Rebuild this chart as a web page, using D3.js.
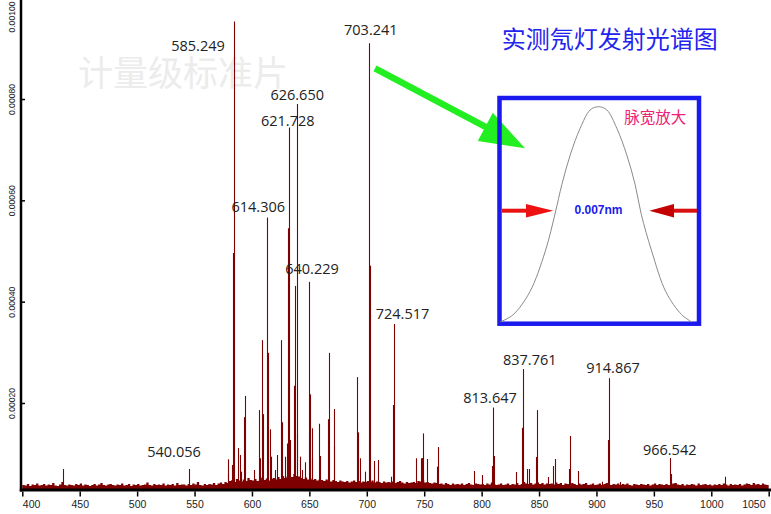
<!DOCTYPE html>
<html><head><meta charset="utf-8">
<script src="https://cdn.jsdelivr.net/npm/d3@7/dist/d3.min.js"></script>
<style>html,body{margin:0;padding:0;background:#fff;overflow:hidden}</style>
</head><body>
<svg id="chart" width="771" height="514"></svg>
<script>
// ---------------- DATA ----------------
const xTicks = [400,450,500,550,600,650,700,750,800,850,900,950,1000,1050];
const yTicks = [0.0002,0.0004,0.0006,0.0008,0.0010];

// baseline noise level, one value every 2 nm from 400 nm, in units of 1e-6
const noiseStart = 400, noiseStep = 2;
const noiseLevel = [
 38,37,40,36,39,38,41,37,38,40,
 37,39,38,42,37,36,39,44,38,37,
 39,38,37,40,38,41,37,39,38,36,
 38,40,37,39,42,38,37,39,40,38,
 37,39,38,41,37,38,40,36,39,38,
 40,37,38,39,43,38,37,40,38,39,
 38,41,37,39,38,40,37,42,38,39,
 39,37,40,38,41,39,44,38,37,40,
 38,40,39,42,38,41,43,40,44,42,
 46,48,44,50,47,45,49,46,52,48,
 47,50,46,49,53,48,51,47,50,52,
 49,54,50,56,52,55,58,54,60,56,
 55,52,50,53,49,51,48,50,47,49,
 48,46,49,47,45,48,46,44,47,45,
 44,46,43,45,47,44,46,43,45,44,
 46,44,47,43,45,44,42,45,43,44,
 43,45,42,44,46,43,41,44,42,43,
 44,42,46,45,48,43,44,42,41,43,
 42,40,41,39,42,40,38,41,39,40,
 39,41,38,40,42,39,38,41,40,39,
 40,38,41,39,43,40,38,39,41,38,
 39,41,38,40,39,42,38,40,44,41,
 40,42,39,41,43,40,42,39,41,40,
 41,39,43,40,42,38,41,40,39,42,
 40,38,41,39,40,42,38,39,41,38,
 39,41,38,40,42,39,38,40,39,41,
 38,40,39,41,38,37,40,39,38,40,
 39,38,40,37,39,41,38,40,39,38,
 40,38,39,41,42,39,38,40,37,39,
 38,40,39,37,41,38,39,40,38,39,
 37,39,38,40,38,41,39,37,40,38,
 39,38,40,37,39,41,40,38,42,39,
 40,38,41,39,38,40
];

// emission lines (measured position, nm) and intensity
const peakWavelength = [
 435.7,545.4,578.9,579.4,582.4,583.7,584.6,587.6,589.6,590.7,
 593.3,594.2,596.8,601.8,606.4,607.3,609.0,609.9,613.4,614.2,
 615.7,616.3,620.1,621.5,625.5,626.4,629.0,630.8,631.6,632.0,
 633.1,636.9,637.7,639.0,639.5,641.8,643.3,645.9,649.9,650.5,
 652.0,652.5,658.6,659.3,666.5,667.4,671.2,671.7,691.7,692.6,
 694.3,698.4,702.2,702.8,706.5,710.0,720.8,723.1,724.0,742.6,
 747.0,747.8,749.2,752.7,761.4,762.0,793.6,800.6,809.3,810.2,
 810.8,829.7,835.4,836.3,839.8,841.5,847.6,848.5,858.1,862.4,
 864.2,876.4,877.2,884.2,904.6,910.3,911.2,920.8,964.3,964.9,
 1012.2
];
const peakIntensity = [
 0.0000697,0.0000697,0.0000618,0.0000888,0.0000776,0.000496,0.000953,0.000111,0.0000973,0.0000644,
 0.000172,0.000214,0.0000499,0.0000677,0.000186,0.0000908,0.000324,0.000178,0.000566,0.000299,
 0.000148,0.0000940,0.0000677,0.0000973,0.000324,0.000162,0.0000940,0.000120,0.000545,0.000744,
 0.000127,0.000234,0.000431,0.000140,0.000790,0.0000940,0.0000677,0.0000829,0.000439,0.000217,
 0.0000908,0.000150,0.000159,0.0000953,0.000168,0.000299,0.000188,0.000114,0.000251,0.000142,
 0.0000908,0.0000644,0.000910,0.000471,0.0000855,0.0000874,0.0000545,0.000196,0.000356,0.0000908,
 0.0000908,0.0000914,0.000140,0.0000894,0.0000742,0.000113,0.0000657,0.0000578,0.0000756,0.000191,
 0.0000953,0.0000638,0.000151,0.000267,0.0000697,0.0000697,0.0000934,0.000186,0.0000539,0.0000756,
 0.0000894,0.0000697,0.000135,0.0000657,0.0000446,0.000127,0.000249,0.0000440,0.0000914,0.0000598,
 0.0000545
];

// peak annotations: text, anchor wavelength (text centre), anchor intensity (text baseline)
const labelText = ["585.249","703.241","626.650","621.728","614.306","640.229","724.517","540.056","813.647","837.761","914.867","966.542"];
const labelWavelength = [553.0,703.5,639.4,631.2,605.5,652.3,731.1,532.1,807.3,841.9,914.4,963.8];
const labelIntensity = [0.000895,0.000926,0.000798,0.000747,0.000576,0.000454,0.000365,0.0000940,0.000199,0.000274,0.000259,0.0000973];

const titleText = "实测氖灯发射光谱图";
const watermarkText = "计量级标准片";
const insetTitle = "脉宽放大";
const insetWidthLabel = "0.007nm";

// zoomed line profile (offset from line centre in nm, relative intensity)
const profileOffset = [-0.0076,-0.0066,-0.0053,-0.0041,-0.00334,-0.00282,-0.00216,-0.00141,-0.00064,0,0.00064,0.00141,0.00216,0.00282,0.0033,0.0041,0.0052,0.0064,0.0072];
const profileRel    = [0,0.033,0.14,0.33,0.506,0.64,0.78,0.90,0.985,1,0.985,0.90,0.78,0.64,0.5,0.33,0.14,0.035,0];

// ---------------- CHART ----------------
const svg = d3.select("#chart");
const W = 771, H = 514;
const axisY = 490;        // x-axis line centre
const axisX = 21;         // y-axis line centre
const maroon = "#7f0000";

const x = d3.scaleLinear().domain([400,1050]).range([22.3,768.7]);
const y = d3.scaleLinear().domain([0,0.001]).range([504.3,-2.3]);

// watermark
svg.append("text").attr("x",183).attr("y",86).attr("text-anchor","middle")
  .attr("font-family","'Noto Sans CJK SC', sans-serif").attr("font-size",35)
  .attr("fill","#ececec").text(watermarkText);

// clip for spectrum
svg.append("defs").append("clipPath").attr("id","plotClip")
  .append("rect").attr("x",axisX).attr("y",0).attr("width",W-axisX).attr("height",axisY);

const plot = svg.append("g").attr("clip-path","url(#plotClip)");

const noiseData = noiseLevel.map((v,i)=>({w:noiseStart+i*noiseStep, v:v*1e-6}));
plot.append("path").datum(noiseData)
  .attr("fill",maroon)
  .attr("d", d3.area().x(d=>x(d.w)).y0(axisY).y1(d=>y(d.v)).curve(d3.curveStepAfter));

const peaks = peakWavelength.map((w,i)=>({w, v:peakIntensity[i]}));
plot.selectAll("line.peak").data(peaks).join("line").attr("class","peak")
  .attr("x1",d=>Math.round(x(d.w))+0.5).attr("x2",d=>Math.round(x(d.w))+0.5)
  .attr("y1",axisY).attr("y2",d=>y(d.v))
  .attr("stroke",maroon).attr("stroke-width",1.1);

// peak labels
const labels = labelText.map((t,i)=>({t, w:labelWavelength[i], v:labelIntensity[i]}));
svg.selectAll("text.plabel").data(labels).join("text").attr("class","plabel")
  .attr("x",d=>x(d.w)).attr("y",d=>y(d.v)).attr("text-anchor","middle")
  .attr("font-family","'Open Sans', sans-serif").attr("font-size",14.5)
  .attr("fill","#222").text(d=>d.t);

// axes
const xAxis = svg.append("g").attr("transform",`translate(0,${axisY+1.5})`)
  .call(d3.axisBottom(x).tickValues(xTicks).tickSize(5).tickFormat(d3.format("d")));
xAxis.select(".domain").remove();
xAxis.selectAll(".tick line").attr("stroke","#000").attr("stroke-width",1.5);
xAxis.selectAll(".tick text").attr("y",9).attr("font-size",10.5)
  .attr("font-family","'Liberation Sans', Arial, sans-serif").attr("fill","#222");
xAxis.selectAll(".tick").each(function(d){
  const t = d3.select(this).select("text");
  const len = t.node().getComputedTextLength();
  const cx = x(d);
  let shift = 0;
  if (cx - len/2 < 22.3) shift = 22.3 - (cx - len/2);
  if (cx + len/2 > 765) shift = 765 - (cx + len/2);
  t.attr("x", shift);
});

const yAxis = svg.append("g").attr("transform",`translate(${axisX},0)`)
  .call(d3.axisLeft(y).tickValues(yTicks).tickSizeInner(-4).tickSizeOuter(0).tickFormat(d3.format(".5f")));
yAxis.select(".domain").remove();
yAxis.selectAll(".tick line").attr("stroke","#000").attr("stroke-width",1.5);
yAxis.selectAll(".tick text")
  .attr("x",null).attr("dy",null).attr("text-anchor","middle")
  .attr("font-size",8.6).attr("font-family","'Liberation Sans', Arial, sans-serif").attr("fill","#222")
  .each(function(d){
    const len = this.getComputedTextLength();
    const cy = y(d);
    let shift = 0;
    if (cy - len/2 < 1) shift = 1 - (cy - len/2);
    d3.select(this).attr("transform",`translate(-6,${shift}) rotate(-90)`);
  });

// axis lines
svg.append("line").attr("x1",axisX-1.25).attr("x2",W).attr("y1",axisY).attr("y2",axisY)
  .attr("stroke","#000").attr("stroke-width",3);
svg.append("line").attr("x1",axisX).attr("x2",axisX).attr("y1",0).attr("y2",axisY+1.5)
  .attr("stroke","#000").attr("stroke-width",2.5);

// title
svg.append("text").attr("x",609.7).attr("y",47.5).attr("text-anchor","middle")
  .attr("font-family","'Noto Sans CJK SC', sans-serif").attr("font-size",24)
  .attr("fill","#2323ee").text(titleText);

// green pointer arrow
const g = svg.append("g");
g.append("line").attr("x1",375).attr("y1",68.3).attr("x2",486).attr("y2",127.2)
  .attr("stroke","#22ee22").attr("stroke-width",6.5);
g.append("polygon").attr("points","477.8,140.9 525,148.3 492.8,112.7").attr("fill","#22ee22");

// inset
const ix = d3.scaleLinear().domain([-0.0076,0.0076]).range([500,697]);
const iy = d3.scaleLinear().domain([0,1]).range([322,106.7]);
const inset = svg.append("g");
inset.append("rect").attr("x",499.5).attr("y",98).attr("width",199.5).attr("height",225.7)
  .attr("fill","none").attr("stroke","#1a1aee").attr("stroke-width",4.5);
const prof = profileOffset.map((o,i)=>({o, r:profileRel[i]}));
inset.append("path").datum(prof).attr("fill","none").attr("stroke","#8a8a8a").attr("stroke-width",1)
  .attr("d", d3.line().x(d=>ix(d.o)).y(d=>iy(d.r)).curve(d3.curveCatmullRom));

// FWHM arrows
inset.append("line").attr("x1",502).attr("x2",528).attr("y1",210.7).attr("y2",210.7)
  .attr("stroke","#e81414").attr("stroke-width",4);
inset.append("polygon").attr("points","526,204 553.3,210.7 526,217.5").attr("fill","#ee1111");
inset.append("line").attr("x1",672).attr("x2",697).attr("y1",210.7).attr("y2",210.7)
  .attr("stroke","#d81010").attr("stroke-width",4);
inset.append("polygon").attr("points","674,204 649.3,210.7 674,217.5").attr("fill","#c40000");

inset.append("text").attr("x",ix(0)).attr("y",213.5).attr("text-anchor","middle")
  .attr("font-family","'Liberation Sans', Arial, sans-serif").attr("font-size",12).attr("font-weight","bold")
  .attr("fill","#1a1aee").text(insetWidthLabel);
inset.append("text").attr("x",655.3).attr("y",122.5).attr("text-anchor","middle")
  .attr("font-family","'Noto Sans CJK SC', sans-serif").attr("font-size",15.5)
  .attr("fill","#ee2277").text(insetTitle);
</script>
</body></html>
